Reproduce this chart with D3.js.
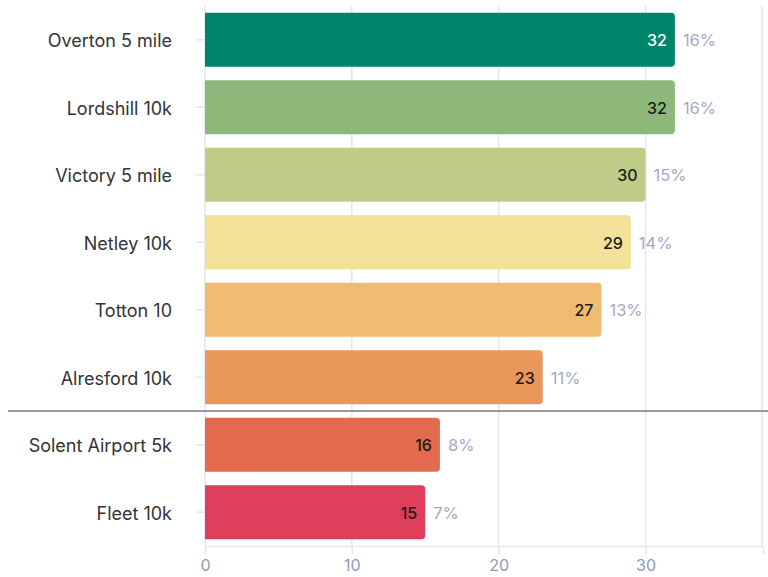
<!DOCTYPE html>
<html>
<head>
<meta charset="utf-8">
<script src="https://cdn.jsdelivr.net/npm/d3@7"></script>
<style>
  body { margin: 0; background: #fff; }
  svg { display: block; font-family: Inter, 'Noto Sans', sans-serif; }
</style>
</head>
<body>
<svg id="chart"></svg>
<script>
const races = ['Overton 5 mile', 'Lordshill 10k', 'Victory 5 mile', 'Netley 10k', 'Totton 10', 'Alresford 10k', 'Solent Airport 5k', 'Fleet 10k']
const counts = [32, 32, 30, 29, 27, 23, 16, 15]
const shares = [16, 16, 15, 14, 13, 11, 8, 7]
const colors = ['#00856a', '#8db87a', '#bfcc87', '#f3e19a', '#efbb70', '#ea975c', '#e36a4f', '#de3e5a']
const xTicks = [0, 10, 20, 30]

const width = 768
const height = 577
const margin = { top: 6, right: 5, bottom: 31, left: 205 }

const svg = d3.select('#chart').attr('width', width).attr('height', height)

const x = d3.scaleLinear().domain([0, 38]).range([margin.left, width - margin.right])
const y = d3.scaleBand()
  .domain(races)
  .range([margin.top, height - margin.bottom])
  .paddingInner(0.2)
  .paddingOuter(0.1)

const data = races.map((r, i) => ({ race: r, count: counts[i], share: shares[i], color: colors[i] }))

// gridlines
svg.append('g')
  .selectAll('line')
  .data(xTicks)
  .enter()
  .append('line')
  .attr('x1', d => x(d))
  .attr('x2', d => x(d))
  .attr('y1', margin.top)
  .attr('y2', height - margin.bottom)
  .attr('stroke', '#e3e5ef')
  .attr('stroke-width', 1.5)

// right edge of plot frame
svg.append('line')
  .attr('x1', x(38) - 1).attr('x2', x(38) - 1)
  .attr('y1', margin.top).attr('y2', height - margin.bottom)
  .attr('stroke', '#e3e5ef').attr('stroke-width', 1.5)

// x axis
const xAxis = svg.append('g')
  .attr('transform', `translate(0,${height - margin.bottom})`)
  .call(d3.axisBottom(x).tickValues(xTicks).tickSize(8).tickPadding(6))
xAxis.select('.domain').attr('stroke', '#e3e5ef').attr('stroke-width', 1.5)
xAxis.selectAll('.tick line').attr('stroke', '#e3e5ef').attr('stroke-width', 1.5)
xAxis.selectAll('.tick text')
  .attr('fill', '#8c9bb6')
  .attr('font-size', 16)
  .attr('font-family', 'Inter, sans-serif')

// y axis
const yAxis = svg.append('g')
  .attr('transform', `translate(${margin.left},0)`)
  .call(d3.axisLeft(y).tickSize(9).tickPadding(24))
yAxis.select('.domain').remove()
yAxis.selectAll('.tick line').attr('stroke', '#e3e5ef').attr('stroke-width', 1.5)
yAxis.selectAll('.tick text')
  .attr('fill', '#333338')
  .attr('font-size', 18)
  .attr('dy', '0.42em')
  .attr('font-family', 'Inter, sans-serif')

// bars with rounded right end
const r = 4
svg.append('g')
  .selectAll('path')
  .data(data)
  .enter()
  .append('path')
  .attr('fill', d => d.color)
  .attr('d', d => {
    const x0 = x(0), x1 = x(d.count), y0 = y(d.race), h = y.bandwidth()
    return `M${x0},${y0}H${x1 - r}Q${x1},${y0} ${x1},${y0 + r}V${y0 + h - r}Q${x1},${y0 + h} ${x1 - r},${y0 + h}H${x0}Z`
  })

// value labels
svg.append('g')
  .selectAll('text')
  .data(data)
  .enter()
  .append('text')
  .attr('x', d => x(d.count) - 8)
  .attr('y', d => y(d.race) + y.bandwidth() / 2)
  .attr('dy', '0.4em')
  .attr('text-anchor', 'end')
  .attr('font-size', 16)
  .attr('font-weight', 500)
  .attr('fill', (d, i) => i === 0 ? '#ffffff' : '#1a1a1a')
  .text(d => d.count)

// share labels
svg.append('g')
  .selectAll('text')
  .data(data)
  .enter()
  .append('text')
  .attr('x', d => x(d.count) + 8)
  .attr('y', d => y(d.race) + y.bandwidth() / 2)
  .attr('dy', '0.4em')
  .attr('font-size', 16.5)
  .attr('fill', '#a3a9c4')
  .text(d => d.share + '%')

// separator between Alresford and Solent Airport
const sepY = (y('Alresford 10k') + y.bandwidth() + y('Solent Airport 5k')) / 2
svg.append('line')
  .attr('x1', 8).attr('x2', width)
  .attr('y1', sepY).attr('y2', sepY)
  .attr('stroke', '#999999')
  .attr('stroke-width', 2)
</script>
</body>
</html>
